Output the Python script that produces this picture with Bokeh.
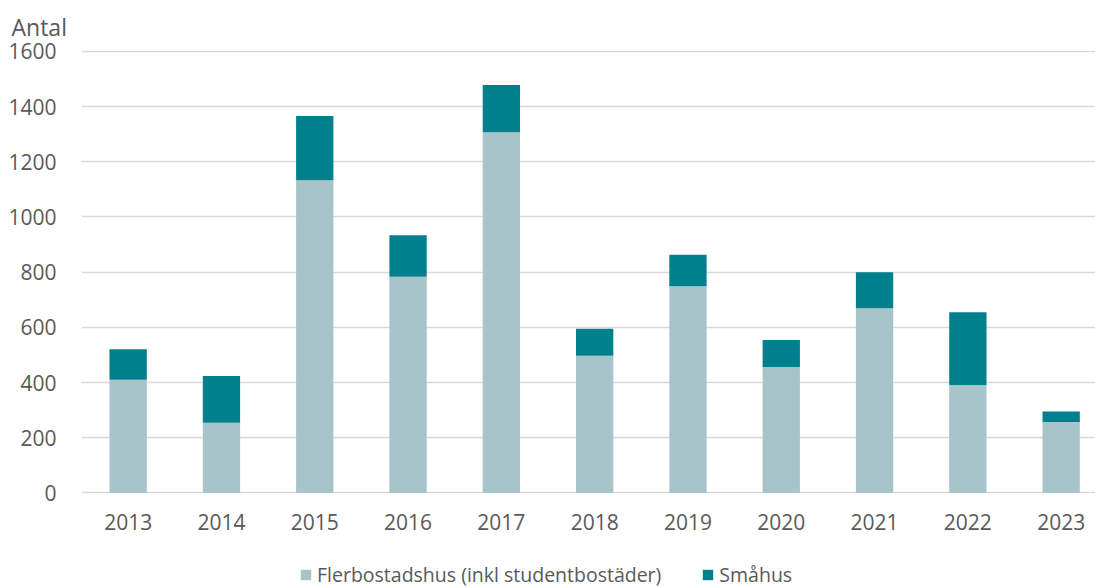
from bokeh.plotting import figure
from bokeh.models import ColumnDataSource, Range1d, Legend, LegendItem, FixedTicker
from bokeh.layouts import column
from bokeh.embed import file_html
from bokeh.resources import INLINE

years = ["2013", "2014", "2015", "2016", "2017", "2018", "2019", "2020", "2021", "2022", "2023"]
flerbostadshus = [410, 254, 1133, 783, 1307, 497, 749, 456, 669, 391, 257]
smahus = [111, 170, 233, 151, 171, 98, 114, 98, 131, 264, 38]
series_names = ["Flerbostadshus (inkl studentbostäder)", "Småhus"]
y_ticks = [0, 200, 400, 600, 800, 1000, 1200, 1400, 1600]

FONT = "Open Sans"
TXT = "#595959"
LIGHT = "#A7C4CA"
DARK = "#00808C"

idx = list(range(len(years)))
src = ColumnDataSource(dict(x=idx, fler=flerbostadshus, sma=smahus))

p = figure(width=1095, height=545,
           output_backend="svg", toolbar_location=None,
           x_range=Range1d(-0.5, 10.368), y_range=Range1d(-2, 1603),
           min_border_left=81, min_border_right=0, min_border_top=48, min_border_bottom=52)
p.outline_line_color = None
p.background_fill_color = "white"

rs = p.vbar_stack(["fler", "sma"], x="x", width=0.4, color=[LIGHT, DARK],
                  line_color=None, source=src)

p.xgrid.grid_line_color = None
p.ygrid.grid_line_color = "#D9D9D9"
p.ygrid.grid_line_width = 1.5
p.yaxis.ticker = FixedTicker(ticks=y_ticks)
p.xaxis.ticker = FixedTicker(ticks=idx)
p.xaxis.major_label_overrides = {i: y for i, y in zip(idx, years)}
for ax in (p.xaxis, p.yaxis):
    ax.axis_line_color = None
    ax.major_tick_line_color = None
    ax.minor_tick_line_color = None
    ax.major_label_text_font = FONT
    ax.major_label_text_font_size = "21px"
    ax.major_label_text_color = TXT
p.yaxis.major_label_standoff = 19
p.xaxis.major_label_standoff = 14

p.title.text = "Antal"
p.title.text_font = FONT
p.title.text_font_size = "23px"
p.title.text_font_style = "normal"
p.title.text_color = TXT
p.title.align = "left"
p.title.offset = -70
p.title.standoff = 16

# legend row (separate strip below the chart, frames aligned with the chart)
lg = figure(width=1095, height=43, output_backend="svg", toolbar_location=None,
            x_range=Range1d(0, 1), y_range=Range1d(0, 1),
            x_axis_location=None, y_axis_location=None,
            min_border_left=0, min_border_right=0, min_border_top=0, min_border_bottom=0)
lg.outline_line_color = None
lg.grid.grid_line_color = None
hidden = ColumnDataSource(dict(x=[10], top=[1]))
r1 = lg.vbar(x="x", top="top", width=0.1, color=LIGHT, line_color=None, source=hidden)
r2 = lg.vbar(x="x", top="top", width=0.1, color=DARK, line_color=None, source=hidden)

legend = Legend(items=[LegendItem(label=series_names[0], renderers=[r1]),
                       LegendItem(label=series_names[1], renderers=[r2])],
                orientation="horizontal", location=(218, 0))
legend.label_text_font = FONT
legend.label_text_font_size = "19.5px"
legend.label_text_color = TXT
legend.border_line_color = None
legend.background_fill_alpha = 0
legend.glyph_width = 13
legend.glyph_height = 13
legend.spacing = 40
legend.margin = 0
legend.padding = 0
legend.label_standoff = 5
lg.add_layout(legend, "center")

layout = column(p, lg, spacing=0)
open("out.html", "w").write(file_html(layout, INLINE))
